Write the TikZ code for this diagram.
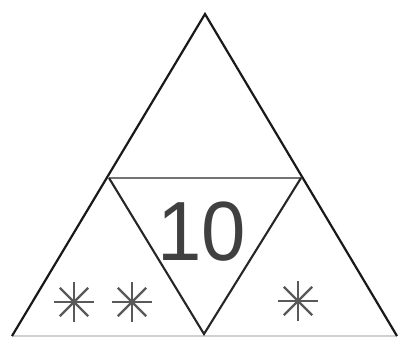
\documentclass[tikz,border=0pt]{standalone}
\usepackage{fontspec}
\setmainfont{Liberation Sans}
\begin{document}
\begin{tikzpicture}[x=1pt,y=-1pt,
  outer/.style={line width=2.2pt,draw=black!90},
  inner/.style={line width=2.1pt,draw=black!85},
  midline/.style={line width=2.1pt,draw=black!55},
  baseline/.style={line width=2pt,draw=black!18},
  numtext/.style={font=\fontsize{84}{84}\selectfont,text=black!75,inner sep=0pt,xscale=0.95},
  star8/.pic={\foreach \a in {0,45,...,315}{\draw[line width=2.4pt,draw=black!65,line cap=butt] (0,0) -- (\a:20);}}
]
\useasboundingbox (0,0) rectangle (399,338);
\coordinate (A) at (205,14);
\coordinate (L) at (12,336);
\coordinate (R) at (397,336);
\coordinate (ML) at (109,178);
\coordinate (MR) at (301,178);
\coordinate (MB) at (204,334);
\draw[baseline] (L) -- (R);
\draw[outer] (L) -- (A) -- (R);
\draw[midline] (ML) -- (MR);
\draw[inner] (ML) -- (MB) -- (MR);
\node[numtext] (ten) at (202,232) {10};
\pic at (74,302) {star8};
\pic at (132,302) {star8};
\pic at (298,301) {star8};
\end{tikzpicture}
\end{document}
